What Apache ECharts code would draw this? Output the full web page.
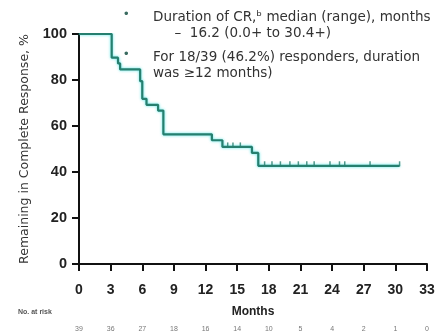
<!DOCTYPE html>
<html>
<head>
<meta charset="utf-8">
<script src="https://cdn.jsdelivr.net/npm/echarts@6/dist/echarts.min.js"></script>
<style>
  html, body { margin: 0; padding: 0; background: #fff; }
  #main { width: 444px; height: 333px; }
</style>
</head>
<body>
<div id="main"></div>
<script>
// Kaplan-Meier steps: time (months) and % remaining in CR
const stepMonths = [0, 3.1, 3.7, 3.9, 5.8, 6.0, 6.4, 7.5, 8.0, 12.6, 13.6, 16.4, 17.0, 30.4];
const stepValues = [100, 89.7, 87.2, 84.6, 79.5, 71.8, 69.2, 66.7, 56.4, 53.8, 50.9, 48.3, 42.7, 42.7];

// censored observations
const censorMonths = [14.1, 14.6, 15.3, 17.6, 18.3, 19.1, 20.0, 20.8, 21.6, 22.3, 23.8, 24.7, 25.2, 27.6, 30.4];
const censorValues = [50.9, 50.9, 50.9, 42.7, 42.7, 42.7, 42.7, 42.7, 42.7, 42.7, 42.7, 42.7, 42.7, 42.7, 42.7];

const xTicks = [0, 3, 6, 9, 12, 15, 18, 21, 24, 27, 30, 33];
const atRisk = [39, 36, 27, 18, 16, 14, 10, 5, 4, 2, 1, 0];

const lineColor = '#267f6f';

let chart = echarts.init(document.getElementById('main'));

let option = {
    animation: false,
    grid: { left: 79, right: 17, top: 34, bottom: 65 },
    xAxis: [
        {
            type: 'value',
            min: 0, max: 33, interval: 3,
            name: 'Months',
            nameLocation: 'middle',
            nameGap: 42,
            nameTextStyle: { fontFamily: 'Liberation Sans', fontWeight: 'bold', fontSize: 12, color: '#222' },
            axisLine: { show: true, onZero: false, lineStyle: { color: '#111', width: 2 } },
            axisTick: { show: true, inside: false, length: 7, lineStyle: { color: '#111', width: 2 } },
            axisLabel: { fontFamily: 'Liberation Sans', fontWeight: 'bold', fontSize: 14, color: '#222', margin: 19 },
            splitLine: { show: false }
        },
        {
            // number at risk row
            type: 'value',
            position: 'bottom',
            offset: 54,
            min: 0, max: 33, interval: 3,
            axisLine: { show: false },
            axisTick: { show: false },
            splitLine: { show: false },
            axisLabel: {
                fontFamily: 'Liberation Sans', fontSize: 7, color: '#777',
                formatter: v => { let i = xTicks.indexOf(v); return i >= 0 ? String(atRisk[i]) : ''; }
            }
        }
    ],
    yAxis: {
        type: 'value',
        min: 0, max: 100, interval: 20,
        name: 'Remaining in Complete Response, %',
        nameLocation: 'middle',
        nameGap: 48,
        nameTextStyle: { fontFamily: 'DejaVu Sans', fontSize: 12.5, color: '#333' },
        axisLine: { show: true, onZero: false, lineStyle: { color: '#111', width: 2 } },
        axisTick: { show: true, inside: false, length: 7, lineStyle: { color: '#111', width: 2 } },
        axisLabel: { fontFamily: 'Liberation Sans', fontWeight: 'bold', fontSize: 14.5, color: '#222', margin: 12 },
        splitLine: { show: false }
    },
    graphic: [
        {
            type: 'text', left: 18, top: 309,
            style: { text: 'No. at risk', font: 'bold 7px Liberation Sans', fill: '#555' }
        },
        {
            type: 'text', left: 124, top: 8,
            style: { text: '•', font: '13px Liberation Sans', fill: '#3a6b60' }
        },
        {
            type: 'text', left: 124, top: 48,
            style: { text: '•', font: '13px Liberation Sans', fill: '#3a6b60' }
        },
        {
            type: 'text', left: 153, top: 9,
            style: {
                text: 'Duration of CR,ᵇ median (range), months\n     –  16.2 (0.0+ to 30.4+)',
                font: '13.5px DejaVu Sans', fill: '#333', lineHeight: 16
            }
        },
        {
            type: 'text', left: 153, top: 49,
            style: {
                text: 'For 18/39 (46.2%) responders, duration\nwas ≥12 months)',
                font: '13.5px DejaVu Sans', fill: '#333', lineHeight: 16
            }
        }
    ],
    series: [
        {
            name: 'KM',
            type: 'line',
            step: 'end',
            showSymbol: false,
            data: stepMonths.map((m, i) => [m, stepValues[i]]),
            lineStyle: { color: lineColor, width: 2.2, shadowColor: 'rgba(0,220,220,0.7)', shadowBlur: 3 },
            z: 3
        },
        {
            name: 'censored',
            type: 'scatter',
            symbol: 'rect',
            symbolSize: [1.5, 5],
            symbolOffset: [0, -2],
            itemStyle: { color: lineColor },
            data: censorMonths.map((m, i) => [m, censorValues[i]]),
            z: 4
        }
    ]
};

chart.setOption(option);
</script>
</body>
</html>
